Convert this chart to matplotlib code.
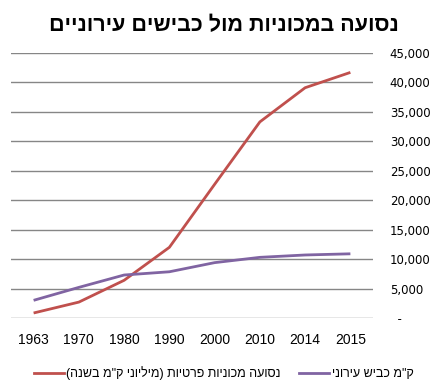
import matplotlib
matplotlib.use("Agg")
import matplotlib.pyplot as plt
from matplotlib.lines import Line2D
from matplotlib.ticker import FuncFormatter

plt.rcParams['font.family'] = ['Liberation Sans', 'DejaVu Sans']

# --------------------------------------------------
# Data
# --------------------------------------------------
years = ["1963", "1970", "1980", "1990", "2000", "2010", "2014", "2015"]
car_travel = [850, 2700, 6400, 12000, 22700, 33300, 39100, 41700]
urban_roads = [3000, 5200, 7300, 7850, 9400, 10300, 10700, 10900]

title_txt = "נסועה במכוניות מול כבישים עירוניים"
car_label = 'נסועה מכוניות פרטיות (מיליוני ק"מ בשנה)'
road_label = 'ק"מ כביש עירוני'

RED = "#C0504D"
PURPLE = "#8064A2"


def rtl(s):
    # matplotlib has no bidi support: reverse and mirror brackets
    swap = {"(": ")", ")": "("}
    return "".join(swap.get(c, c) for c in reversed(s))


fig = plt.figure(figsize=(4.43, 3.91), dpi=100)
ax = fig.add_axes([0.0248, 0.1867, 0.8172, 0.6778])

x = range(len(years))
ax.plot(x, car_travel, color=RED, lw=2.0, solid_capstyle="butt")
ax.plot(x, urban_roads, color=PURPLE, lw=2.0, solid_capstyle="butt")

ax.set_xlim(-0.5, len(years) - 0.5)
ax.set_ylim(0, 45000)
ax.set_yticks(range(0, 45001, 5000))
ax.yaxis.set_major_formatter(FuncFormatter(lambda v, p: "  -" if v == 0 else f"{int(v):,}"))
ax.yaxis.tick_right()
ax.set_xticks(list(x))
ax.set_xticklabels(years)

ax.grid(axis="y", color="#868686", lw=1.0)
ax.set_axisbelow(True)
for s in ax.spines.values():
    s.set_visible(False)
ax.tick_params(axis="both", length=0)
ax.tick_params(axis="x", labelsize=10, pad=11)
ax.tick_params(axis="y", labelsize=8.5, pad=12)
for lab in ax.get_yticklabels():
    lab.set_family(['DejaVu Sans'])

fig.text(0.505, 0.935, rtl(title_txt), ha="center", va="center",
         fontsize=15.5, fontweight="bold")

handles = [Line2D([], [], color=RED, lw=2.0), Line2D([], [], color=PURPLE, lw=2.0)]
fig.legend(handles, [rtl(car_label), rtl(road_label)], loc="center",
           bbox_to_anchor=(0.505, 0.046), ncol=2, frameon=False,
           fontsize=9, handlelength=2.4, handletextpad=0.2, columnspacing=1.5)

fig.savefig("out.png", dpi=100)
